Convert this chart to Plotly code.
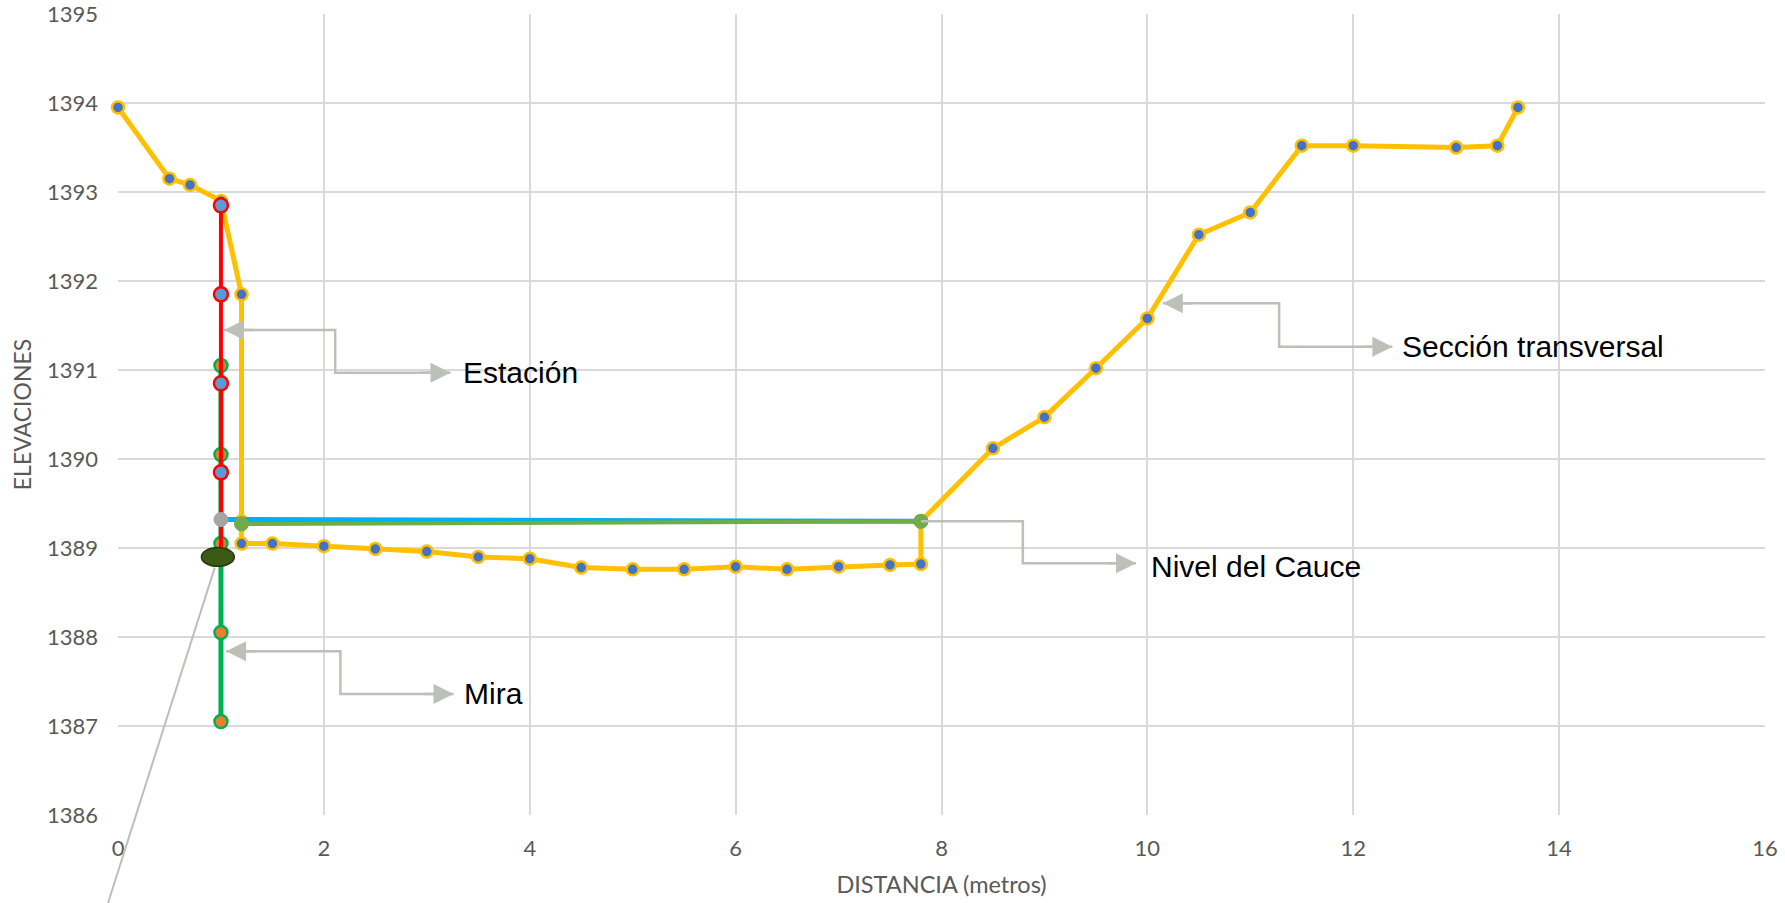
import plotly.graph_objects as go

# ---------------- data ----------------
sec_x = [0, 0.5, 0.7, 1.0, 1.2, 1.2, 1.2, 1.5, 2.0, 2.5, 3.0, 3.5, 4.0, 4.5, 5.0, 5.5, 6.0, 6.5, 7.0, 7.5, 7.8,
         7.8, 8.5, 9.0, 9.5, 10.0, 10.5, 11.0, 11.5, 12.0, 13.0, 13.4, 13.6]
sec_y = [1393.95, 1393.15, 1393.08, 1392.9, 1391.85, 1389.3, 1389.05, 1389.05, 1389.02, 1388.99, 1388.96, 1388.9,
         1388.88, 1388.78, 1388.76, 1388.76, 1388.79, 1388.76, 1388.79, 1388.81, 1388.82,
         1389.3, 1390.12, 1390.47, 1391.02, 1391.58, 1392.52, 1392.77, 1393.52, 1393.52, 1393.5, 1393.52, 1393.95]

est_x = [1.0, 1.0, 1.0, 1.0, 1.0]
est_y = [1392.85, 1391.85, 1390.85, 1389.85, 1388.9]
est_markers = [True, True, True, True, False]

mira_x = [1.0, 1.0, 1.0, 1.0, 1.0]
mira_y = [1391.05, 1390.05, 1389.05, 1388.05, 1387.05]

blue_x = [1.0, 7.8]
blue_y = [1389.32, 1389.3]
cauce_x = [1.2, 7.8]
cauce_y = [1389.27, 1389.3]

# base station ellipse (center, half sizes)
base_x, base_y = 0.97, 1388.9
base_rx, base_ry = 0.16, 0.105
# leader line from base going off-chart
lead_x = [0.94, -0.1]
lead_y = [1388.78, 1385.0]

XR = [0, 16]
YR = [1386, 1395]

# callouts: tip1, elbow x, low y, tip2, text
callouts = [
    dict(x1=1.03, y1=1391.45, xe=2.11, y2=1390.97, x2=3.23, text="Estación", tx=3.33, ty=1390.97, head1=True),
    dict(x1=1.05, y1=1387.84, xe=2.16, y2=1387.36, x2=3.26, text="Mira", tx=3.34, ty=1387.36, head1=True),
    dict(x1=7.8, y1=1389.3, xe=8.79, y2=1388.83, x2=9.89, text="Nivel del Cauce", tx=10.02, ty=1388.79, head1=False),
    dict(x1=10.15, y1=1391.75, xe=11.28, y2=1391.26, x2=12.38, text="Sección transversal", tx=12.45, ty=1391.26, head1=True),
]

GRAY = "#BCC0B8"

fig = go.Figure()

fig.add_trace(go.Scatter(
    x=sec_x, y=sec_y, mode="lines+markers", name="Sección transversal",
    line=dict(color="#FFC000", width=5),
    marker=dict(color="#4472C4", size=12, line=dict(color="#FFC000", width=2.5)),
    cliponaxis=False,
))

fig.add_trace(go.Scatter(
    x=mira_x, y=mira_y, mode="lines+markers", name="Mira",
    line=dict(color="#00B050", width=5),
    marker=dict(color="#ED7D31", size=13, line=dict(color="#00B050", width=2.5)),
))

fig.add_trace(go.Scatter(
    x=est_x, y=est_y, mode="lines", name="Estación",
    line=dict(color="#FF0000", width=4), showlegend=False,
))
fig.add_trace(go.Scatter(
    x=[x for x, m in zip(est_x, est_markers) if m],
    y=[y for y, m in zip(est_y, est_markers) if m],
    mode="markers", name="Estación",
    marker=dict(color="#5B9BD5", size=14, line=dict(color="#FF0000", width=2.5)),
))

fig.add_trace(go.Scatter(
    x=blue_x, y=blue_y, mode="lines+markers",
    line=dict(color="#00B0F0", width=5),
    marker=dict(color="#A5A5A5", size=14, line=dict(color="#A5A5A5", width=1)),
))
fig.add_trace(go.Scatter(
    x=cauce_x, y=cauce_y, mode="lines+markers",
    line=dict(color="#70AD47", width=4),
    marker=dict(color="#70AD47", size=14, line=dict(color="#70AD47", width=1)),
))

shapes = []
annotations = []
for c in callouts:
    path = f"M {c['x1']},{c['y1']} L {c['xe']},{c['y1']} L {c['xe']},{c['y2']} L {c['x2']},{c['y2']}"
    shapes.append(dict(type="path", path=path, xref="x", yref="y",
                       line=dict(color=GRAY, width=2.5), layer="above"))
    if c["head1"]:
        annotations.append(dict(x=c["x1"], y=c["y1"], ax=c["x1"] + 0.3, ay=c["y1"],
                                xref="x", yref="y", axref="x", ayref="y", text="",
                                showarrow=True, arrowhead=2, arrowsize=1.6, arrowwidth=2.5,
                                arrowcolor=GRAY, standoff=0))
    annotations.append(dict(x=c["x2"], y=c["y2"], ax=c["x2"] - 0.3, ay=c["y2"],
                            xref="x", yref="y", axref="x", ayref="y", text="",
                            showarrow=True, arrowhead=2, arrowsize=1.6, arrowwidth=2.5,
                            arrowcolor=GRAY, standoff=0))
    annotations.append(dict(x=c["tx"], y=c["ty"], xref="x", yref="y", text=c["text"],
                            showarrow=False, xanchor="left", yanchor="middle",
                            font=dict(family="Liberation Sans, Arial", size=30, color="#000000")))

def px(v):
    return (v - XR[0]) / (XR[1] - XR[0])

def py(v):
    return (v - YR[0]) / (YR[1] - YR[0])

shapes.append(dict(type="line", xref="paper", yref="paper",
                   x0=px(lead_x[0]), y0=py(lead_y[0]), x1=px(lead_x[1]), y1=py(lead_y[1]),
                   line=dict(color=GRAY, width=2), layer="above"))
shapes.append(dict(type="circle", xref="x", yref="y",
                   x0=base_x - base_rx, x1=base_x + base_rx, y0=base_y - base_ry, y1=base_y + base_ry,
                   fillcolor="#3A5A16", line=dict(color="#263C0E", width=1.5), layer="above"))

fig.update_layout(
    width=1785, height=903,
    margin=dict(l=118, r=20, t=14, b=88, autoexpand=False),
    paper_bgcolor="white", plot_bgcolor="white",
    showlegend=False,
    shapes=shapes, annotations=annotations,
    font=dict(family="Lato, Open Sans, sans-serif", color="#595959"),
)
fig.update_xaxes(range=XR, dtick=2, tick0=0, showgrid=True, gridcolor="#D9D9D9", gridwidth=1.5,
                 zeroline=False, showline=False, ticks="", ticklabelstandoff=18, automargin=False,
                 ticklabeloverflow="allow",
                 tickfont=dict(size=22, color="#595959"),
                 title=dict(text="DISTANCIA (metros)", font=dict(size=23.5, color="#595959"), standoff=16))
fig.update_yaxes(range=YR, dtick=1, tick0=1386, showgrid=True, gridcolor="#D9D9D9", gridwidth=1.5,
                 zeroline=False, showline=False, ticks="", ticklabelstandoff=19, automargin=False,
                 ticklabeloverflow="allow",
                 tickfont=dict(size=22, color="#595959"),
                 title=dict(text="ELEVACIONES", font=dict(size=23, color="#595959"), standoff=8))

fig.write_html("out.html", config={"displayModeBar": False},
               post_script="document.body.style.margin='0px';document.body.style.overflow='hidden';")
